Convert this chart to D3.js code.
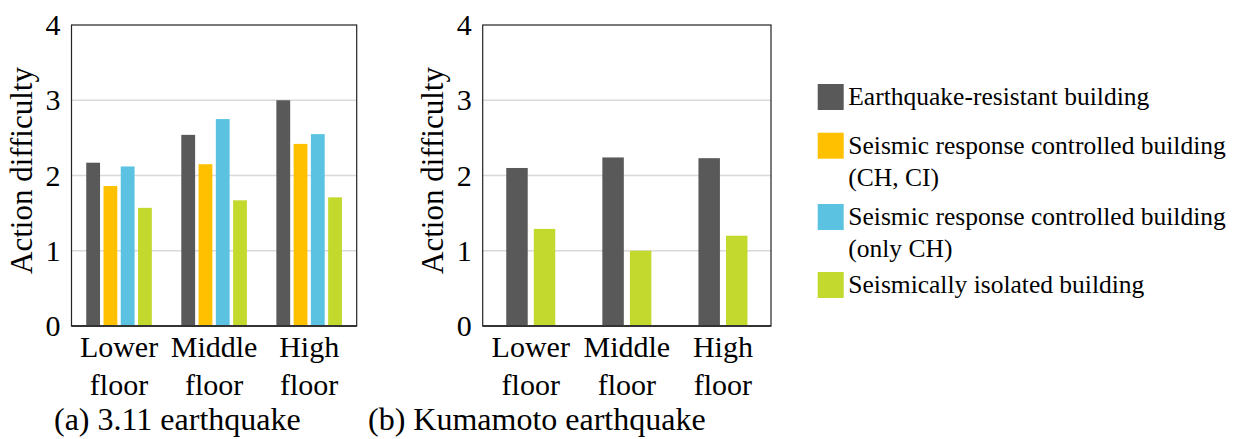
<!DOCTYPE html>
<html>
<head>
<meta charset="utf-8">
<script src="https://cdn.jsdelivr.net/npm/d3@7"></script>
<style>
  body { margin: 0; background: #fff; }
</style>
</head>
<body>
<div id="chart"></div>
<script>
// categories (two-line labels)
const floors = ["Lower floor", "Middle floor", "High floor"];
const floorLines = [["Lower", "floor"], ["Middle", "floor"], ["High", "floor"]];

// series
const seriesNames = [
    "Earthquake-resistant building",
    "Seismic response controlled building (CH, CI)",
    "Seismic response controlled building (only CH)",
    "Seismically isolated building"
];
const legendLines = [
    ["Earthquake-resistant building"],
    ["Seismic response controlled building", "(CH, CI)"],
    ["Seismic response controlled building", "(only CH)"],
    ["Seismically isolated building"]
];
const seriesColors = ["#595959", "#ffc000", "#5bc3e1", "#c4d92e"];

// (a) 3.11 earthquake
const resistant311 = [2.17, 2.54, 3.00];
const controlledChCi311 = [1.86, 2.15, 2.42];
const controlledCh311 = [2.12, 2.75, 2.55];
const isolated311 = [1.57, 1.67, 1.71];

// (b) Kumamoto earthquake
const resistantKumamoto = [2.10, 2.24, 2.23];
const isolatedKumamoto = [1.29, 1.00, 1.20];

const yTicks = [0, 1, 2, 3, 4];
const gridTicks = [1, 2, 3];

const FONT = "Liberation Serif";
const W = 1237, H = 439;
const svg = d3.select("#chart").append("svg")
    .attr("width", W)
    .attr("height", H)
    .attr("font-family", FONT)
    .style("display", "block");

svg.append("rect").attr("width", W).attr("height", H).attr("fill", "#fff");

const plotTop = 25, plotBottom = 326;
const y = d3.scaleLinear().domain([0, 4]).range([plotBottom, plotTop]);

function drawPanel(opts) {
    const g = svg.append("g").attr("transform", `translate(${opts.left},0)`);
    const w = opts.right - opts.left;

    const x0 = d3.scaleBand()
        .domain(floors)
        .range([0, w])
        .paddingInner(opts.groupPad)
        .paddingOuter(opts.groupPad / 2);

    const x1 = d3.scaleBand()
        .domain(opts.series.map(s => s.name))
        .range([0, x0.bandwidth()])
        .paddingInner(opts.barPad);

    // gridlines
    g.append("g")
        .selectAll("line")
        .data(gridTicks)
        .enter()
        .append("line")
        .attr("x1", 0)
        .attr("x2", w)
        .attr("y1", d => y(d))
        .attr("y2", d => y(d))
        .attr("stroke", "#d9d9d9")
        .attr("stroke-width", 1.5);

    // bars
    opts.series.forEach(s => {
        g.append("g")
            .selectAll("rect")
            .data(s.values)
            .enter()
            .append("rect")
            .attr("x", (d, i) => x0(floors[i]) + x1(s.name))
            .attr("y", d => y(d))
            .attr("width", x1.bandwidth())
            .attr("height", d => y(0) - y(d))
            .attr("fill", s.color);
    });

    // frame
    g.append("rect")
        .attr("x", 0)
        .attr("y", plotTop)
        .attr("width", w)
        .attr("height", plotBottom - plotTop)
        .attr("fill", "none")
        .attr("stroke", "#222")
        .attr("stroke-width", 1.2);
    g.append("line")
        .attr("x1", 0).attr("x2", w)
        .attr("y1", plotBottom).attr("y2", plotBottom)
        .attr("stroke", "#333")
        .attr("stroke-width", 2);

    // y tick labels
    g.append("g")
        .selectAll("text")
        .data(yTicks)
        .enter()
        .append("text")
        .attr("x", -11)
        .attr("y", d => y(d))
        .attr("dy", "0.34em")
        .attr("text-anchor", "end")
        .attr("font-family", FONT)
        .attr("font-size", "30px")
        .attr("fill", "#000")
        .text(d => d);

    // y title
    g.append("text")
        .attr("transform", `translate(-40,${(plotTop + plotBottom) / 2 - 5}) rotate(-90)`)
        .attr("text-anchor", "middle")
        .attr("font-family", FONT)
        .attr("font-size", "31px")
        .attr("fill", "#000")
        .text("Action difficulty");

    // x labels
    const xl = g.append("g")
        .selectAll("text")
        .data(floors)
        .enter()
        .append("text")
        .attr("x", d => x0(d) + x0.bandwidth() / 2)
        .attr("y", 357)
        .attr("text-anchor", "middle")
        .attr("font-family", FONT)
        .attr("font-size", "30px")
        .attr("fill", "#000");
    xl.selectAll("tspan")
        .data((d, i) => floorLines[i])
        .enter()
        .append("tspan")
        .attr("x", function () { return d3.select(this.parentNode).attr("x"); })
        .attr("dy", (d, i) => i === 0 ? 0 : 38)
        .text(d => d);

    // caption
    svg.append("text")
        .attr("x", opts.captionX)
        .attr("y", 430)
        .attr("font-family", FONT)
        .attr("font-size", "32px")
        .attr("fill", "#000")
        .text(opts.caption);
}

drawPanel({
    left: 71.5, right: 356.7,
    groupPad: 0.31, barPad: 0.2,
    caption: "(a) 3.11 earthquake", captionX: 54,
    series: [
        { name: seriesNames[0], color: seriesColors[0], values: resistant311 },
        { name: seriesNames[1], color: seriesColors[1], values: controlledChCi311 },
        { name: seriesNames[2], color: seriesColors[2], values: controlledCh311 },
        { name: seriesNames[3], color: seriesColors[3], values: isolated311 }
    ]
});

drawPanel({
    left: 482.7, right: 771,
    groupPad: 0.49, barPad: 0.22,
    caption: "(b) Kumamoto earthquake", captionX: 368,
    series: [
        { name: seriesNames[0], color: seriesColors[0], values: resistantKumamoto },
        { name: seriesNames[3], color: seriesColors[3], values: isolatedKumamoto }
    ]
});

// legend
const legendY = [84, 132.7, 204, 272];
const legend = svg.append("g").attr("transform", "translate(817.7,0)");
seriesNames.forEach((name, i) => {
    legend.append("rect")
        .attr("x", 0)
        .attr("y", legendY[i])
        .attr("width", 26)
        .attr("height", 26)
        .attr("fill", seriesColors[i]);
    const t = legend.append("text")
        .attr("x", 30.6)
        .attr("y", legendY[i] + 21)
        .attr("font-family", FONT)
        .attr("font-size", "25.5px")
        .attr("fill", "#000");
    legendLines[i].forEach((line, j) => {
        t.append("tspan")
            .attr("x", 30.6)
            .attr("dy", j === 0 ? 0 : 32)
            .text(line);
    });
});
</script>
</body>
</html>
